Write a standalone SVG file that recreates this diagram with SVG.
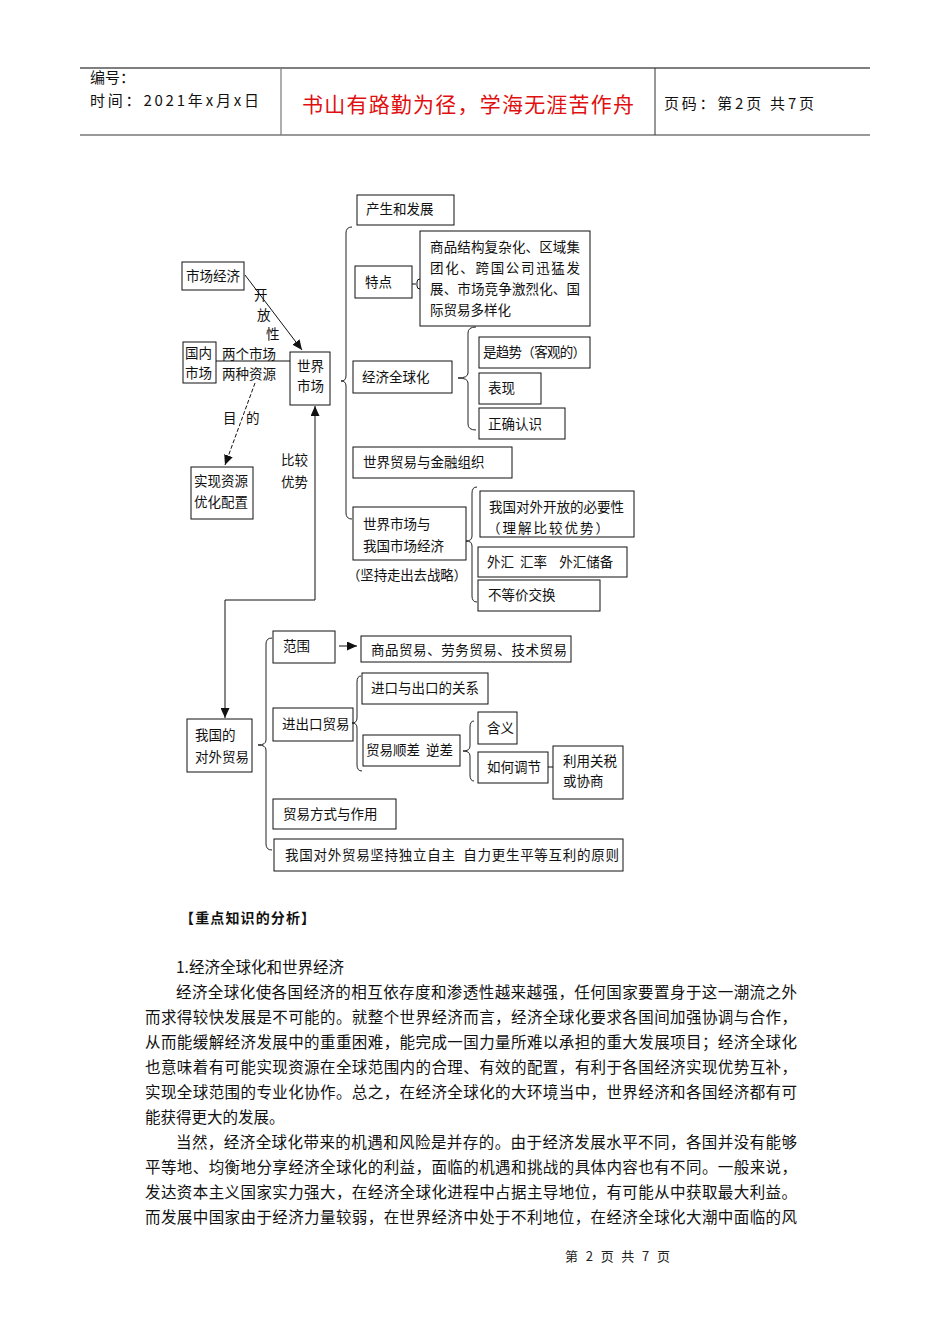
<svg xmlns="http://www.w3.org/2000/svg" width="950" height="1344" viewBox="0 0 950 1344">
<style>
.bx{fill:none;stroke:#111;stroke-width:1}
.br{fill:none;stroke:#222;stroke-width:1}
.t{font-family:"Noto Sans CJK SC","Liberation Sans",sans-serif;font-size:13.5px;fill:#111}
.p{font-family:"Noto Sans CJK SC","Liberation Serif",serif;font-size:15.5px;fill:#111}
.h{font-family:"Noto Sans CJK SC","Liberation Sans",sans-serif;font-size:15px;fill:#111}
.ln{fill:none;stroke:#111;stroke-width:1}
</style>
<defs>
<marker id="ah" markerUnits="userSpaceOnUse" markerWidth="10" markerHeight="9" refX="10" refY="4.5" orient="auto">
<path d="M0,0 L10,4.5 L0,9 z" fill="#111"/>
</marker>
</defs>
<rect width="950" height="1344" fill="#fff"/>

<g id="header">
<line x1="80" y1="68" x2="870" y2="68" stroke="#555" stroke-width="1.5"/>
<line x1="80" y1="135" x2="870" y2="135" stroke="#777" stroke-width="1.5"/>
<line x1="281" y1="68" x2="281" y2="135" stroke="#777" stroke-width="1.2"/>
<line x1="655" y1="68" x2="655" y2="135" stroke="#333" stroke-width="1"/>
<text class="h" x="90" y="83">编号：</text>
<text class="h" x="90" y="106" textLength="169">时间：2021年x月x日</text>
<text x="302" y="112" textLength="332" style="font-family:'Noto Sans CJK SC',sans-serif;font-size:21px;fill:#e01010">书山有路勤为径，学海无涯苦作舟</text>
<text class="h" x="664" y="109" textLength="150">页码：第2页 共7页</text>
</g>

<g id="connectors">
<path class="br" d="M352,227 Q346,227 346,233 L346,376 Q346,381 341,381 Q346,381 346,386 L346,513 Q346,519 352,519"/>
<path class="br" d="M476,327 Q468,327 468,333 L468,373 Q468,378 458,378 Q468,378 468,383 L468,424 Q468,430 476,430"/>
<path class="br" d="M477,487 Q472,487 472,493 L472,536 Q472,541 466,541 Q472,541 472,546 L472,596 Q472,602 477,602"/>
<path class="br" d="M272,638 Q266,638 266,644 L266,740 Q266,745 258,745 Q266,745 266,750 L266,844 Q266,850 272,850"/>
<path class="br" d="M361,676 Q357,676 357,682 L357,718 Q357,723 352,723 Q357,723 357,728 L357,765 Q357,771 362,771"/>
<path class="br" d="M474,721 Q470,721 470,727 L470,746 Q470,751 463,751 Q470,751 470,756 L470,775 Q470,781 474,781"/>
<path class="ln" d="M412,284 L416,284 M420,279 Q417,279 417,282 L417,286 Q417,289 420,289"/>
<path class="ln" d="M548,767 L553,767"/>
<line class="ln" x1="245" y1="275" x2="302" y2="350" marker-end="url(#ah)"/>
<line class="ln" x1="216" y1="361" x2="290" y2="361"/>
<line class="ln" x1="255" y1="383" x2="225" y2="465" stroke-dasharray="4,2" marker-end="url(#ah)"/>
<path class="ln" d="M315,600 L315,406" marker-end="url(#ah)"/>
<path class="ln" d="M315,600 L225,600 L225,718" marker-end="url(#ah)"/>
<line class="ln" x1="339" y1="646" x2="357" y2="646" marker-end="url(#ah)"/>
<text class="t" x="254" y="300">开</text>
<text class="t" x="257" y="320">放</text>
<text class="t" x="266" y="339">性</text>
<text class="t" x="222" y="359">两个市场</text>
<text class="t" x="222" y="379">两种资源</text>
<text class="t" x="223" y="423">目</text>
<text class="t" x="246" y="423">的</text>
<text class="t" x="281" y="465">比较</text>
<text class="t" x="281" y="487">优势</text>
</g>

<g id="n-shichangjingji"><rect class="bx" x="182" y="262" width="62" height="28"/><text class="t" x="186" y="281">市场经济</text></g>
<g id="n-guoneishichang"><rect class="bx" x="183" y="342" width="33" height="41"/><text class="t" x="185" y="358">国内</text><text class="t" x="185" y="378">市场</text></g>
<g id="n-shijieshichang"><rect class="bx" x="290" y="352" width="40" height="53"/><text class="t" x="297" y="371">世界</text><text class="t" x="297" y="391">市场</text></g>
<g id="n-shixianziyuan"><rect class="bx" x="191" y="467" width="62" height="52"/><text class="t" x="194" y="486">实现资源</text><text class="t" x="194" y="507">优化配置</text></g>

<g id="n-chansheng"><rect class="bx" x="357" y="195" width="97" height="30"/><text class="t" x="366" y="214">产生和发展</text></g>
<g id="n-tedian"><rect class="bx" x="355" y="266" width="57" height="32"/><text class="t" x="365" y="287">特点</text></g>
<g id="n-tedian-content"><rect class="bx" x="420" y="231" width="170" height="95"/>
<text class="t" x="430" y="252" textLength="150">商品结构复杂化、区域集</text>
<text class="t" x="430" y="273" textLength="150">团化、跨国公司迅猛发</text>
<text class="t" x="430" y="294" textLength="150">展、市场竞争激烈化、国</text>
<text class="t" x="430" y="315">际贸易多样化</text></g>
<g id="n-jingjiquanqiuhua"><rect class="bx" x="353" y="361" width="99" height="32"/><text class="t" x="362" y="382">经济全球化</text></g>
<g id="n-qushi"><rect class="bx" x="479" y="337" width="111" height="31"/><text class="t" x="483" y="357" textLength="103">是趋势（客观的）</text></g>
<g id="n-biaoxian"><rect class="bx" x="479" y="373" width="62" height="31"/><text class="t" x="488" y="393">表现</text></g>
<g id="n-zhengque"><rect class="bx" x="479" y="408" width="86" height="31"/><text class="t" x="488" y="429">正确认识</text></g>
<g id="n-maoyijinrong"><rect class="bx" x="353" y="447" width="159" height="31"/><text class="t" x="363" y="467">世界贸易与金融组织</text></g>
<g id="n-shijieshichangyu"><rect class="bx" x="353" y="507" width="113" height="53"/><text class="t" x="363" y="529">世界市场与</text><text class="t" x="363" y="551">我国市场经济</text><text class="t" x="347" y="580" textLength="120">（坚持走出去战略）</text></g>
<g id="n-biyaoxing"><rect class="bx" x="480" y="491" width="154" height="46"/><text class="t" x="489" y="512">我国对外开放的必要性</text><text class="t" x="487" y="533" textLength="122">（理解比较优势）</text></g>
<g id="n-waihui"><rect class="bx" x="478" y="547" width="149" height="30"/><text class="t" x="487" y="567" xml:space="preserve">外汇  汇率    外汇储备</text></g>
<g id="n-budengjia"><rect class="bx" x="478" y="580" width="122" height="31"/><text class="t" x="488" y="600">不等价交换</text></g>

<g id="n-duiwaimaoyi"><rect class="bx" x="187" y="719" width="65" height="53"/><text class="t" x="195" y="740">我国的</text><text class="t" x="195" y="762">对外贸易</text></g>
<g id="n-fanwei"><rect class="bx" x="273" y="631" width="62" height="32"/><text class="t" x="283" y="651">范围</text></g>
<g id="n-shangpin"><rect class="bx" x="361" y="636" width="210" height="26"/><text class="t" x="371" y="655" textLength="196">商品贸易、劳务贸易、技术贸易</text></g>
<g id="n-jinkouchukou"><rect class="bx" x="362" y="673" width="126" height="31"/><text class="t" x="371" y="693">进口与出口的关系</text></g>
<g id="n-jinchukou"><rect class="bx" x="273" y="708" width="80" height="33"/><text class="t" x="282" y="729">进出口贸易</text></g>
<g id="n-shuncha"><rect class="bx" x="363" y="735" width="97" height="31"/><text class="t" x="366" y="755" xml:space="preserve">贸易顺差  逆差</text></g>
<g id="n-hanyi"><rect class="bx" x="478" y="712" width="39" height="32"/><text class="t" x="487" y="733">含义</text></g>
<g id="n-ruhetiaojie"><rect class="bx" x="478" y="752" width="70" height="31"/><text class="t" x="487" y="772">如何调节</text></g>
<g id="n-guanshui"><rect class="bx" x="553" y="746" width="70" height="53"/><text class="t" x="563" y="766">利用关税</text><text class="t" x="563" y="786">或协商</text></g>
<g id="n-fangshi"><rect class="bx" x="273" y="799" width="123" height="30"/><text class="t" x="283" y="819">贸易方式与作用</text></g>
<g id="n-yuanze"><rect class="bx" x="274" y="839" width="349" height="32"/><text class="t" x="285" y="860" textLength="334" xml:space="preserve">我国对外贸易坚持独立自主  自力更生平等互利的原则</text></g>

<g id="body">
<text x="180" y="923" style="font-family:'Noto Sans CJK SC',sans-serif;font-size:14px;font-weight:bold;fill:#111" textLength="135">【重点知识的分析】</text>
<text class="p" x="176" y="973">1.经济全球化和世界经济</text>
<text class="p" x="176" y="998" textLength="621">经济全球化使各国经济的相互依存度和渗透性越来越强，任何国家要置身于这一潮流之外</text>
<text class="p" x="145" y="1023" textLength="652">而求得较快发展是不可能的。就整个世界经济而言，经济全球化要求各国间加强协调与合作，</text>
<text class="p" x="145" y="1048" textLength="652">从而能缓解经济发展中的重重困难，能完成一国力量所难以承担的重大发展项目；经济全球化</text>
<text class="p" x="145" y="1073" textLength="652">也意味着有可能实现资源在全球范围内的合理、有效的配置，有利于各国经济实现优势互补，</text>
<text class="p" x="145" y="1098" textLength="652">实现全球范围的专业化协作。总之，在经济全球化的大环境当中，世界经济和各国经济都有可</text>
<text class="p" x="145" y="1123">能获得更大的发展。</text>
<text class="p" x="176" y="1148" textLength="621">当然，经济全球化带来的机遇和风险是并存的。由于经济发展水平不同，各国并没有能够</text>
<text class="p" x="145" y="1173" textLength="652">平等地、均衡地分享经济全球化的利益，面临的机遇和挑战的具体内容也有不同。一般来说，</text>
<text class="p" x="145" y="1198" textLength="652">发达资本主义国家实力强大，在经济全球化进程中占据主导地位，有可能从中获取最大利益。</text>
<text class="p" x="145" y="1223" textLength="652">而发展中国家由于经济力量较弱，在世界经济中处于不利地位，在经济全球化大潮中面临的风</text>
<text x="565" y="1261" style="font-family:'Noto Sans CJK SC',sans-serif;font-size:13px;fill:#222" xml:space="preserve" textLength="105">第 2 页 共 7 页</text>
</g>
</svg>
